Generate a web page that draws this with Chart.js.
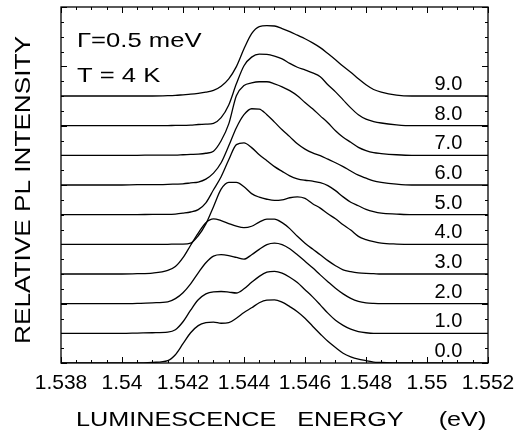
<!DOCTYPE html>
<html><head><meta charset="utf-8">
<script src="https://cdn.jsdelivr.net/npm/chart.js@4"></script>
<style>html,body{margin:0;padding:0;background:#fff}#wrap{width:526px;height:438px}</style>
</head><body><div id="wrap"><canvas id="c" width="526" height="438"></canvas></div>
<script>
// Photon energy grid (eV)
const energy = [1.538,1.539,1.540,1.5405,1.541,
  1.5415,1.54175,1.542,1.54225,1.5425,1.54275,1.543,1.54325,1.5435,1.54375,
  1.544,1.54425,1.5445,1.54475,1.545,1.54525,1.5455,1.54575,1.546,1.54625,
  1.5465,1.54675,1.547,1.54725,1.5475,1.54775,1.548,1.54825,1.5485,
  1.549,1.5495,1.550,1.551,1.552];
// Relative PL intensity of each spectrum (before vertical offset)
const curve0 = [0,0,0,0,0.02, 0.08,0.28,0.65,1.02,1.26,1.36,1.38,1.34,1.36,1.51, 1.70,1.86,2.03,2.12,2.13,2.05,1.90,1.73,1.51,1.24, 0.98,0.73,0.52,0.33,0.21,0.13,0.08,0.03,0.02, 0,0,0,0,0];
const curve1 = [0,0,0,0.01,0.02, 0.04,0.12,0.39,0.78,1.13,1.33,1.40,1.41,1.39,1.36, 1.50,1.72,1.92,2.06,2.09,2.03,1.89,1.71,1.47,1.23, 0.96,0.68,0.44,0.27,0.14,0.06,0.02,0,0, 0,0,0,0,0];
const curve2 = [0,0,0,0.01,0.03, 0.06,0.17,0.37,0.67,1.04,1.38,1.60,1.65,1.62,1.56, 1.50,1.65,1.83,1.99,2.04,1.99,1.85,1.65,1.43,1.21, 0.97,0.74,0.52,0.33,0.18,0.08,0.03,0.01,0, 0,0,0,0,0];
const curve3 = [0,0,0,0.01,0.03, 0.12,0.25,0.55,0.97,1.38,1.73,1.86,1.80,1.70,1.61, 1.56,1.61,1.75,1.85,1.85,1.73,1.53,1.27,1.04,0.84, 0.65,0.45,0.28,0.14,0.08,0.04,0.02,0.01,0, 0,0,0,0,0];
const curve4 = [0,0,0,0,0, 0,0.01,0.01,0.04,0.29,0.69,1.27,1.86,2.09,2.09, 1.94,1.71,1.59,1.52,1.48,1.50,1.57,1.60,1.55,1.37, 1.22,1.03,0.86,0.66,0.48,0.27,0.16,0.09,0.04, 0.01,0,0,0,0];
const curve5 = [0,0,0,0,0.01, 0.01,0.02,0.05,0.09,0.17,0.40,0.84,1.28,1.85,2.36, 2.42,2.26,2.02,1.82,1.62,1.46,1.31,1.21,1.16,1.13, 1.08,0.98,0.81,0.60,0.42,0.30,0.18,0.10,0.05, 0.02,0,0,0,0];
const curve6 = [0,0,0,0.01,0.01, 0.02,0.03,0.04,0.07,0.10,0.20,0.40,0.75,1.32,1.93, 2.37,2.57,2.56,2.37,2.12,1.86,1.63,1.39,1.21,1.08, 0.99,0.87,0.75,0.62,0.47,0.33,0.23,0.14,0.09, 0.03,0,0,0,0];
const curve7 = [0,0,0,0,0.01, 0.01,0.01,0.02,0.03,0.04,0.07,0.14,0.49,1.06,2.01, 2.35,2.44,2.48,2.48,2.41,2.31,2.18,2.01,1.78,1.57, 1.33,1.10,0.83,0.61,0.44,0.27,0.16,0.09,0.06, 0.02,0,0,0,0];
const curve8 = [0,0,0,0,0, 0,0.01,0.01,0.02,0.04,0.05,0.08,0.27,0.70,1.41, 2.02,2.31,2.41,2.40,2.34,2.25,2.10,1.97,1.88,1.78, 1.65,1.38,1.14,0.87,0.60,0.37,0.22,0.14,0.09, 0.03,0,0,0,0];
const curve9 = [0,0,0,0,0, 0.01,0.02,0.04,0.06,0.09,0.13,0.19,0.33,0.58,0.99, 1.59,2.10,2.34,2.37,2.36,2.27,2.17,2.05,1.93,1.79, 1.63,1.43,1.22,1.00,0.80,0.58,0.38,0.22,0.13, 0.03,0,0,0,0];
const curves = [curve0,curve1,curve2,curve3,curve4,curve5,curve6,curve7,curve8,curve9];
const offsets = [0,1,2,3,4,5,6,7,8,9];
const curveLabels = ['0.0','1.0','2.0','3.0','4.0','5.0','6.0','7.0','8.0','9.0'];
const xTickLabels = ['1.538','1.54','1.542','1.544','1.546','1.548','1.55','1.552'];
const xTitle = 'LUMINESCENCE   ENERGY     (eV)';
const yTitle = 'RELATIVE PL INTENSITY';
const annotations = ['\u0393=0.5 meV','T = 4 K'];

const FONT = "'Liberation Sans', Arial, Helvetica, sans-serif";
Chart.defaults.font.family = FONT;
Chart.defaults.color = '#000';

const datasets = curves.map((c, k) => ({
  label: curveLabels[k],
  data: energy.map((e, i) => ({x: e, y: c[i] + offsets[k]})),
  borderColor: '#000',
  borderWidth: 1.3,
  pointRadius: 0,
  fill: false,
  cubicInterpolationMode: 'monotone'
}));

function stretchedText(ctx, text, x, y, sx, rot) {
  ctx.save();
  ctx.translate(x, y);
  if (rot) ctx.rotate(rot);
  ctx.scale(sx, 1);
  ctx.fillText(text, 0, 0);
  ctx.restore();
}

const framePlugin = {
  id: 'frame',
  afterDatasetsDraw(chart) {
    const {ctx, chartArea: a, scales: {x, y}} = chart;
    ctx.save();
    ctx.strokeStyle = '#000';
    ctx.lineWidth = 1.3;
    ctx.strokeRect(a.left, a.top, a.right - a.left, a.bottom - a.top);
    ctx.lineWidth = 1;
    ctx.beginPath();
    for (let i = 0; i <= 28; i++) {
      const px = Math.round(x.getPixelForValue(1.538 + i * 0.0005)) + 0.5;
      const len = i % 4 === 0 ? 6 : 3;
      ctx.moveTo(px, a.bottom); ctx.lineTo(px, a.bottom - len);
      ctx.moveTo(px, a.top); ctx.lineTo(px, a.top + len);
    }
    for (let i = 0; i <= 24; i++) {
      const py = Math.round(y.getPixelForValue(i * 0.5)) + 0.5;
      const len = i % 4 === 0 ? 6 : 3;
      ctx.moveTo(a.left, py); ctx.lineTo(a.left + len, py);
      ctx.moveTo(a.right, py); ctx.lineTo(a.right - len, py);
    }
    ctx.stroke();
    ctx.fillStyle = '#000';
    ctx.font = '20px ' + FONT;
    ctx.textAlign = 'center';
    ctx.textBaseline = 'alphabetic';
    curveLabels.forEach((t, k) => {
      ctx.fillText(t, x.getPixelForValue(1.5507), y.getPixelForValue(offsets[k]) - 6);
    });
    // annotations (horizontally extended face, as in the original figure)
    ctx.textAlign = 'left';
    ctx.font = '21px ' + FONT;
    stretchedText(ctx, annotations[0], a.left + 16, a.top + 40, 1.22, 0);
    stretchedText(ctx, annotations[1], a.left + 16, a.top + 75, 1.22, 0);
    // axis titles
    ctx.textBaseline = 'middle';
    ctx.font = '21px ' + FONT;
    stretchedText(ctx, xTitle, 76, 420, 1.2, 0);
    ctx.textAlign = 'center';
    ctx.font = '22px ' + FONT;
    stretchedText(ctx, yTitle, 24, (a.top + a.bottom) / 2 + 5, 1.19, -Math.PI / 2);
    ctx.restore();
  }
};

new Chart(document.getElementById('c'), {
  type: 'line',
  data: {datasets},
  options: {
    responsive: false,
    animation: false,
    devicePixelRatio: 1,
    layout: {padding: {left: 0, right: 38, top: 7, bottom: 0}},
    plugins: {legend: {display: false}, tooltip: {enabled: false}},
    scales: {
      x: {
        type: 'linear', min: 1.538, max: 1.552,
        grid: {display: false, drawTicks: false},
        border: {display: false},
        ticks: {stepSize: 0.002, autoSkip: false, maxRotation: 0, padding: 8,
          font: {size: 21}, callback: (v, i) => xTickLabels[i] ?? ''},
        title: {display: false},
        afterFit: s => { s.height = 75; }
      },
      y: {
        type: 'linear', min: 0, max: 12,
        grid: {display: false, drawTicks: false},
        border: {display: false},
        ticks: {display: false},
        title: {display: false},
        afterFit: s => { s.width = 61; }
      }
    }
  },
  plugins: [framePlugin]
});
</script>
</body></html>
